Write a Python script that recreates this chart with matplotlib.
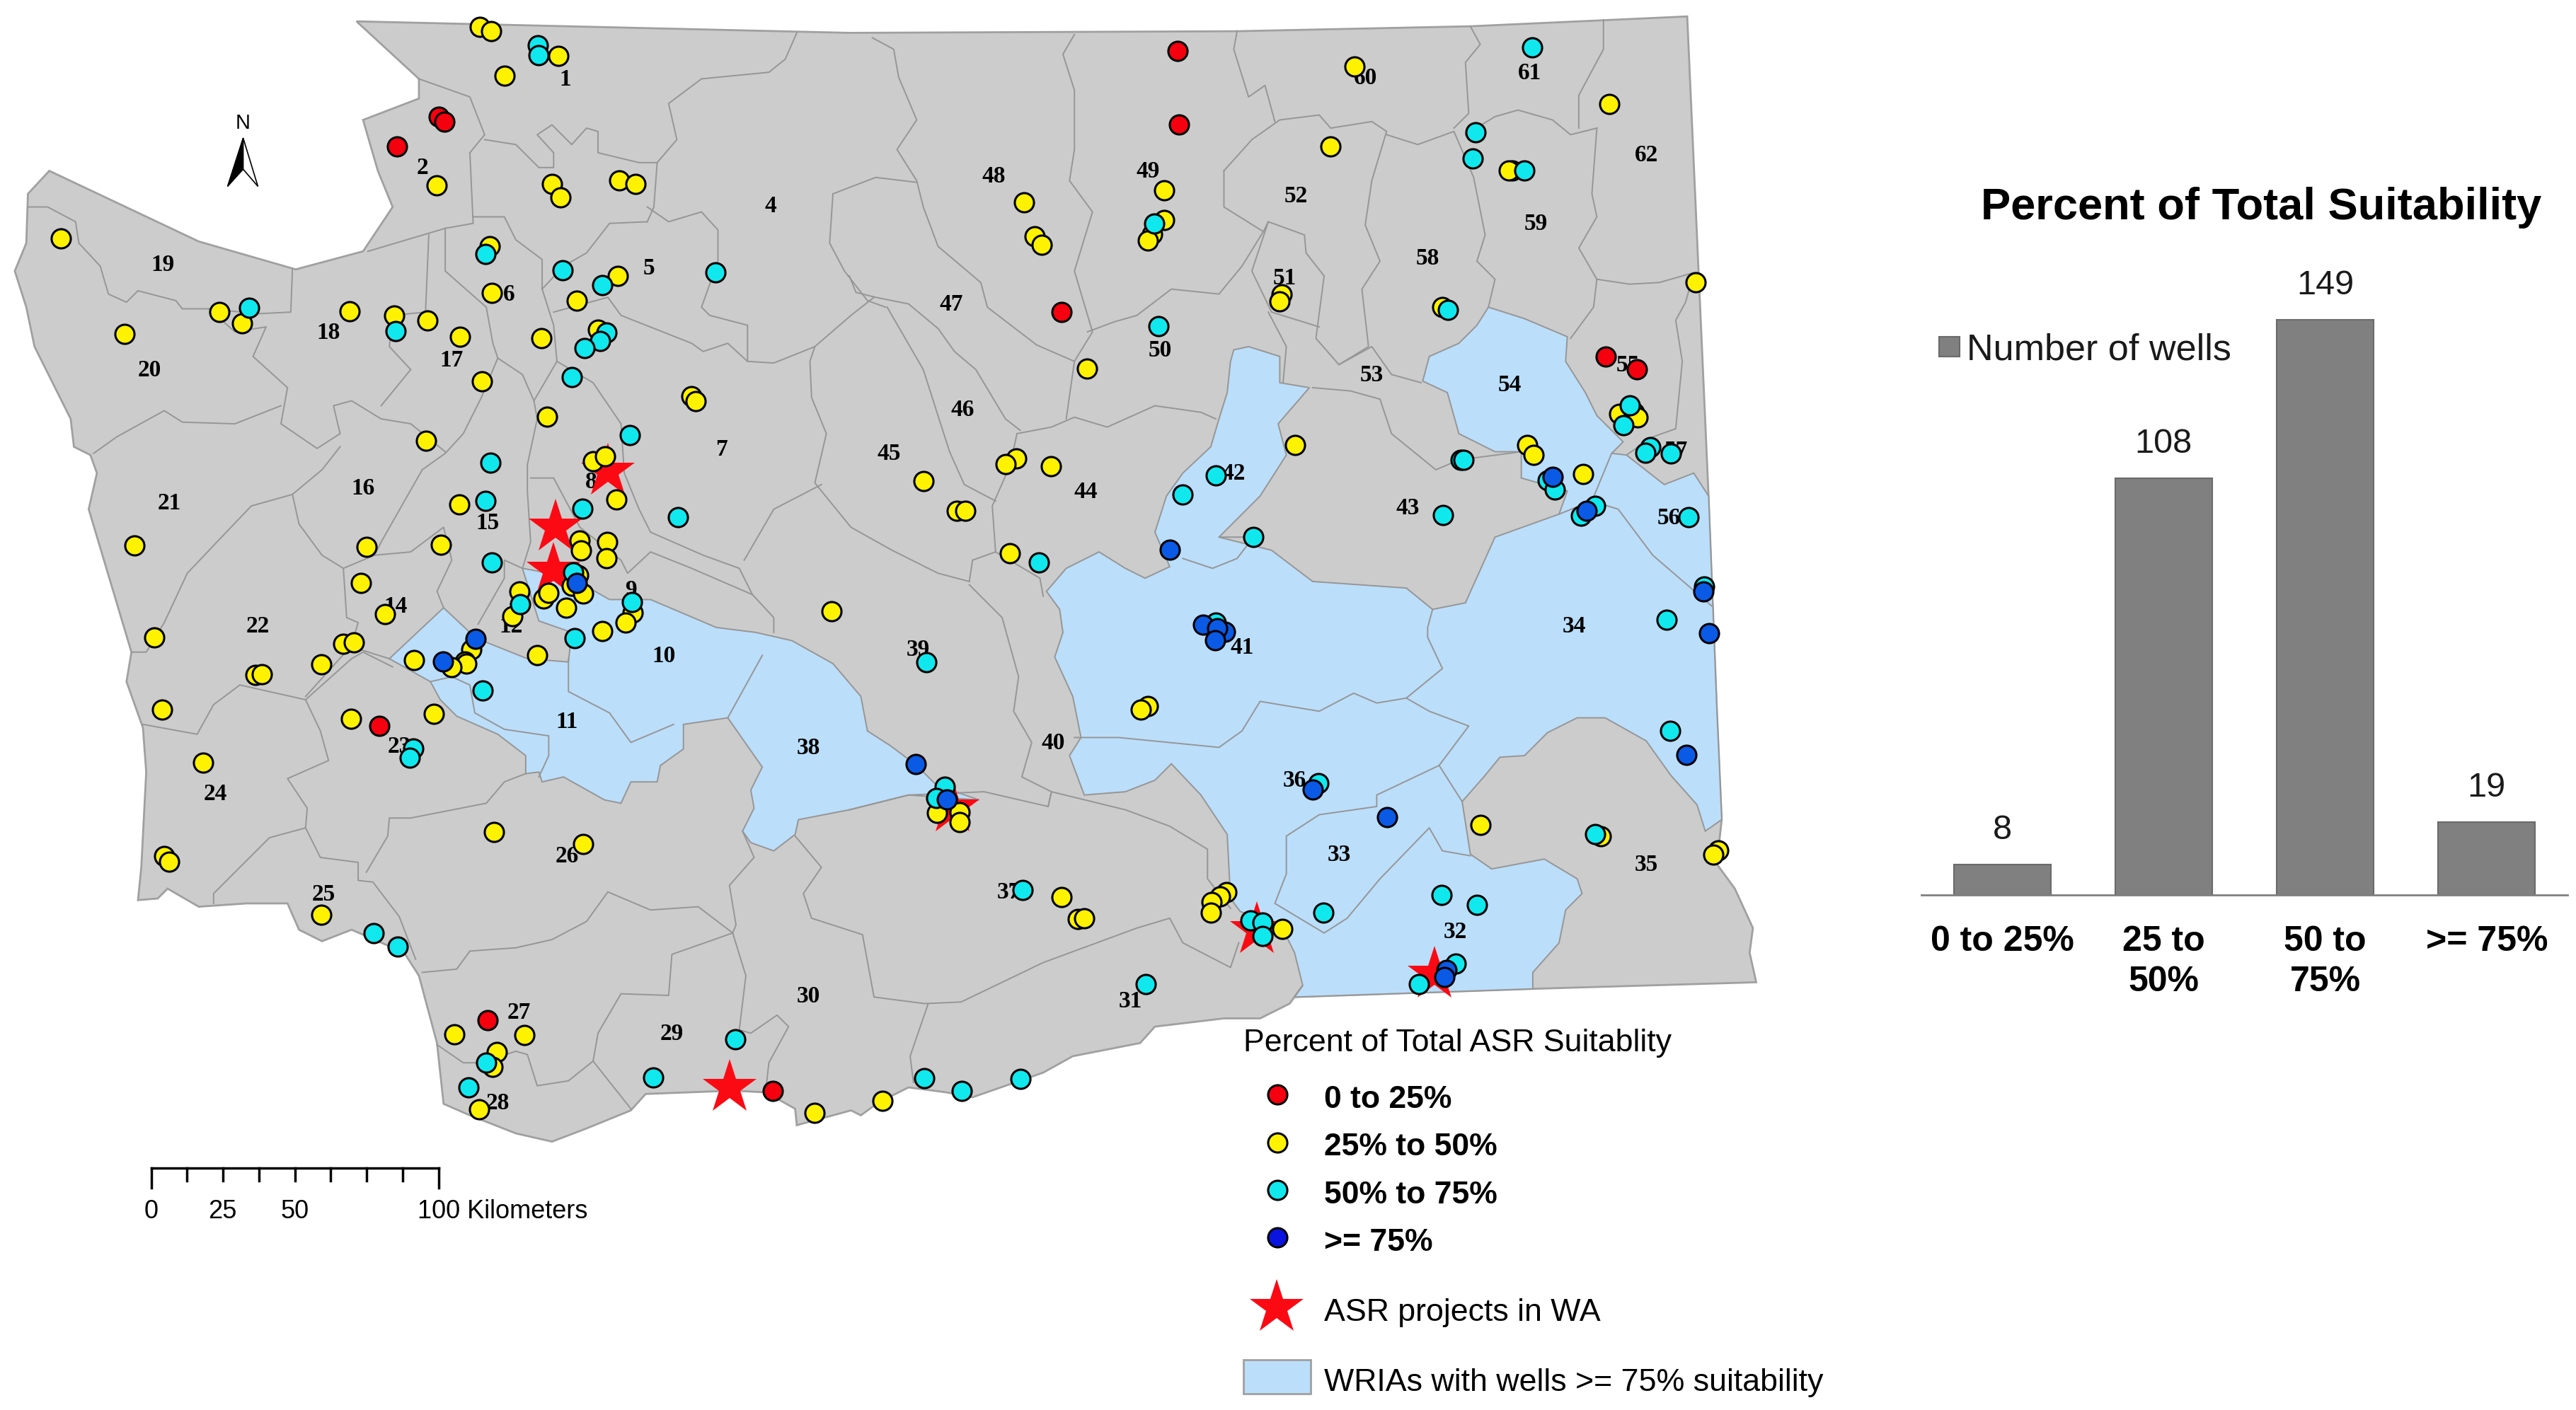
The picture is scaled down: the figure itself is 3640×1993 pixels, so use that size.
import matplotlib
matplotlib.use('Agg')
import matplotlib.pyplot as plt
from matplotlib.patches import Polygon, Rectangle

# map is traced in the pixel grid of a 1568 wide copy of the figure
state = [(217,13),(517,20),(753,19),(895,16),(1027,10),(1040,302),(1045,431),(1048,499),(1045,526),(1056,541),
         (1067,565),(1065,580),(1069,598),(933,602),(788,607),(793,600),(785,611),(767,620),(745,620),(703,625),
         (694,635),(653,643),(635,653),(592,668),(576,665),(553,662),(535,671),(524,679),(518,676),(485,685),
         (484,675),(466,665),(446,664),(393,666),(384,676),(357,687),(336,695),(314,690),(286,679),(270,672),
         (266,635),(255,594),(246,580),(214,566),(196,573),(182,566),(175,550),(150,550),(121,552),(102,541),
         (96,547),(84,548),(86,528),(89,470),(87,443),(77,415),(80,397),(54,310),(59,288),(55,277),(45,272),
         (43,255),(21,211),(16,187),(9,165),(16,148),(17,118),(30,104),(121,147),(180,164),(221,153),(239,126),
         (230,104),(221,73),(255,60),(255,48)]

west_blue = [(270,370),(286,385),(296,391),(321,401),(346,403),(348,385),(328,378),(318,346),(340,350),(357,357),
             (371,365),(396,365),(436,382),(460,385),(482,390),(507,404),(524,424),(528,445),(542,454),(558,466),
             (570,478),(596,487),(553,484),(517,493),(486,499),(484,508),(471,518),(457,513),(452,506),(459,492),
             (457,481),(464,467),(443,437),(416,441),(416,456),(402,466),(400,476),(384,476),(378,489),(368,487),
             (343,473),(330,476),(328,470),(320,471),(320,460),(303,447),(278,436),(268,426),(262,415),(237,401)]

east_blue = [(751,213),(760,211),(779,217),(779,233),(797,236),(778,258),(783,277),(767,302),(742,327),(774,335),
             (799,354),(856,358),(872,371),(892,367),(910,327),(949,313),(954,299),(926,291),(926,275),(910,275),
             (888,264),(881,239),(866,232),(870,217),(888,209),(899,198),(906,187),(928,194),(954,205),(953,220),
             (965,239),(972,253),(988,269),(981,276),(990,277),(1013,295),(1031,288),(1040,302),(1045,431),(1048,499),
             (1038,506),(1033,490),(1017,472),(1002,451),(977,437),(960,437),(942,446),(928,460),(913,461),(904,472),
             (890,488),(895,520),(908,529),(940,523),(960,535),(963,544),(953,554),(949,574),(933,592),(933,602),
             (788,607),(793,600),(788,580),(779,562),(755,555),(749,547),(747,508),(731,484),(713,465),(703,475),
             (685,482),(660,484),(651,460),(658,449),(653,424),(642,400),(647,385),(645,371),(637,360),(649,346),
             (669,336),(685,346),(697,352),(712,345),(703,324),(710,302),(720,288),(737,272),(742,255),(747,239),
             (749,220)]

boundaries = [
    [(485,20),(478,36),(468,44),(427,48),(407,63),(412,85),(400,99),(398,126),(394,135)],
    [(255,48),(286,59),(295,82),(286,93),(288,136),(271,139),(224,153)],
    [(295,85),(314,88),(328,102),(337,102),(337,93),(327,82),(336,76),(348,88),(357,78),(364,80),(364,93),(389,99),(400,99)],
    [(288,132),(307,132),(314,146),(330,158),(330,176),(337,198),(339,220),(325,244),(327,255),(321,283),(321,299),(323,330),(318,346)],
    [(394,135),(371,136),(357,154),(343,162),(330,176)],
    [(337,190),(370,181),(378,192),(421,209),(428,214),(443,209),(455,220),(471,221),(496,211),(518,192),(532,181)],
    [(394,126),(407,135),(427,129),(437,140),(437,159),(427,187),(432,192),(455,198),(455,220)],
    [(339,220),(361,233),(378,258),(380,288),(389,310),(396,324),(428,338),(450,346),(458,362),(471,376),(471,385)],
    [(323,291),(337,291),(353,321),(378,341),(382,349),(396,336),(421,346),(458,362)],
    [(500,295),(471,310),(453,341)],
    [(496,211),(493,220),(494,242),(503,264),(496,294),(518,321),(543,335),(571,349),(590,354)],
    [(507,118),(533,108),(558,111)],
    [(507,118),(505,148),(514,165),(528,183),(539,187)],
    [(531,23),(544,30),(547,47),(558,73),(546,91),(558,110),(562,126),(571,150),(597,172),(601,187),(631,210),(654,220),(649,255)],
    [(654,21),(647,33),(654,55),(654,91),(651,110),(665,129),(654,165),(665,202),(654,220)],
    [(662,202),(678,196),(692,192),(713,176),(742,179),(756,162),(769,141)],
    [(745,104),(762,85),(779,73),(803,70),(810,78),(835,74),(844,80),(835,110),(831,137),(840,159),(829,176),(833,211),(815,222),(801,206),(806,168),(795,154),(794,143),(772,135),(769,141),(745,126),(745,104)],
    [(753,19),(751,30),(760,59),(770,52),(776,74)],
    [(772,135),(762,165),(774,190),(803,199)],
    [(772,190),(783,211),(781,233)],
    [(799,236),(822,238),(840,243),(847,264),(874,286),(888,280),(926,275)],
    [(815,222),(835,211),(847,228),(865,233)],
    [(844,82),(863,88),(885,80),(897,108),(904,143),(899,159),(910,170),(906,187)],
    [(895,16),(901,27),(892,38),(894,69),(885,78)],
    [(892,82),(910,71),(924,67),(945,73),(956,82),(972,78)],
    [(976,12),(976,30),(961,58),(961,78)],
    [(972,78),(969,118),(972,132),(961,151),(972,170),(970,187),(956,206)],
    [(972,170),(992,173),(1010,172),(1031,166),(1026,184),(1020,195),(1024,220),(1020,261),(1006,266),(990,277)],
    [(517,168),(521,178),(533,181),(553,185),(571,200),(581,214),(594,225),(612,255),(621,262)],
    [(540,187),(562,225),(578,275),(587,295),(606,305)],
    [(619,264),(640,260),(654,254),(674,260),(703,247),(731,251),(740,255)],
    [(619,264),(615,283),(604,308),(606,336),(592,341),(590,354)],
    [(606,336),(633,352),(635,363)],
    [(590,356),(610,376),(620,412),(617,433),(628,452),(622,473),(640,482),(638,491)],
    [(654,449),(681,449),(742,455),(756,445),(767,427),(803,433),(824,422),(838,428),(856,425),(870,433),(894,442),(876,466),(838,484),(838,491),(803,496),(783,509),(783,532),(776,550),(806,568),(820,559),(840,535),(870,504),(878,518),(895,521)],
    [(856,425),(878,407),(869,388),(869,382),(872,371)],
    [(876,466),(890,488)],
    [(969,305),(985,310),(1006,338),(1042,369)],
    [(949,313),(969,305),(981,276)],
    [(720,340),(738,346),(753,340),(763,327),(742,327)],
    [(346,401),(346,421),(371,434),(384,452),(410,441)],
    [(464,399),(443,437)],
    [(262,415),(275,412),(286,417),(289,434),(307,444),(334,448),(334,460),(328,473)],
    [(186,426),(146,417),(130,429),(120,447),(87,441)],
    [(186,426),(214,401),(221,397),(239,406)],
    [(186,426),(195,445),(200,463),(175,474),(187,492),(186,504),(164,510),(148,526),(130,544),(130,550)],
    [(186,504),(195,522),(218,525),(218,536),(227,537),(243,558),(253,584)],
    [(223,531),(236,509),(237,498),(250,498),(296,489),(307,476),(320,471)],
    [(257,592),(278,590),(286,579),(314,577),(336,572),(357,561),(370,543),(396,554),(425,552),(446,568)],
    [(452,506),(459,522),(444,539),(448,563),(446,568),(409,581),(407,606),(378,605),(364,629),(361,646),(384,675)],
    [(266,636),(282,647),(293,647),(314,640),(321,642),(327,661),(346,658),(361,646)],
    [(446,568),(454,594),(450,627),(457,629),(473,618),(480,625),(468,647),(466,665)],
    [(484,509),(500,528),(489,544),(494,559),(525,569),(532,607),(563,611),(585,610),(635,586),(692,565),(712,559),(720,574),(749,589),(754,574)],
    [(565,611),(554,643),(556,659)],
    [(517,493),(553,484),(599,482),(638,491),(640,482),(685,493),(712,503),(735,517),(735,535),(749,553)],
    [(17,126),(29,126),(46,135),(48,148),(61,162),(66,179),(77,184),(84,177),(107,183),(111,188),(127,188),(157,191),(177,190),(178,164)],
    [(127,188),(143,202),(162,199),(154,217),(175,236),(171,258),(193,273),(207,264),(203,247),(214,244),(232,255),(250,258),(271,275)],
    [(57,276),(71,266),(100,250),(111,257),(143,258),(171,247)],
    [(261,143),(259,190),(239,192),(237,211),(250,225),(232,247)],
    [(271,139),(271,165),(296,187),(300,209),(303,218),(293,242),(282,264),(271,276),(257,286),(232,330),(228,338),(250,336),(270,321),(275,341),(266,360),(270,370)],
    [(303,218),(318,228),(325,244)],
    [(291,380),(307,352),(307,341),(318,346)],
    [(207,272),(196,286),(178,301),(153,308),(132,330),(114,349),(100,379),(89,397),(80,397)],
    [(178,301),(182,319),(196,338),(209,346),(228,338)],
    [(209,346),(211,376),(218,379),(214,393),(221,396),(237,401)],
    [(214,393),(186,424)],
]

# wells
well_red = [(267,71),(270.5,74),(241.5,89),(717,31),(717.5,76),(646,190),(977.5,217),(996.5,225),(231,442),(297,621),(470.5,664)]
well_cyan = [(327.5,27.5),(328,33.5),(295.5,154.5),(151.5,187.5),(241,201.5),(342.5,164.5),(366.5,173.5),(435.5,166),
             (369,202.5),(365.5,207.5),(356,212),(348,229.5),(383.5,265),(298.5,281.5),(295.5,305),(354.5,309.5),
             (412.5,315),(299.5,342.5),(349,348.5),(316.5,368),(384.5,366.5),(350,388.5),(294,420.5),
             (251.5,455.5),(249.5,461.5),(227.5,568),(242,576.5),(447.5,632.5),(397.5,656),(285,662),(296,647),
             (932.5,29),(898,80.5),(896.5,96.5),(928,104),(702.5,136),(705,198.5),(881.5,188.5),(992,247),(988,259),
             (1004.5,272),(1001.5,275.5),(1017,276),(889,280),(891,280),(740,289.5),(720,301),(942,292.5),(946.5,298),
             (971,308),(962.5,314),(878.5,313.5),(1028,315),(763,327),(632.5,342.5),(1037.5,357),(564,403),(1014.5,377.5),
             (740,379),(1016.5,445),(802.5,477),(575,479),(570,486),(971,508),(622.5,542),(877.5,545),(899,551),(805.5,555.5),
             (761,560.5),(768.5,561.5),(768.5,570),(886,586.5),(863.5,599),(697.5,599),(562.5,656.5),(585.5,664),(621,657)]
well_yellow = [(292,16.5),(299,19),(340,34),(307,46),(266,113),(336,112),(341,120),(377,110),(387,112),(298,150),(37,145),
               (376,168),(299.5,178.5),(351,183),(133.5,190),(147.5,197),(213,189.5),(240,192),(260,195),(76,203.5),(280,205),
               (329.5,206),(364,200.5),(293.5,232),(421,241),(423.5,244),(333,253.5),(259.5,268.5),(361,281),(368.5,278),(375,304),
               (279.5,307),(82,332),(223,333),(268.5,331.5),(353,329),(353.5,335),(369.5,330),(369,340),(219.5,355),(352,350),
               (348,356.5),(355,361.5),(316,360),(331,364.5),(334,361),(344.5,370),(234.5,374),(312,375),(385,373),(381,379),
               (366.5,384),(506,372),(94,388),(209,392),(215.5,391),(327,399),(287,395.5),(283,402.5),(284,404),(252,402),(275,406),
               (195.5,404.5),(155.5,411),(159.5,410.5),(98.5,432),(213.5,437.5),(264,434.5),(123.5,464.5),(300.5,506.5),(355,514),
               (100,521),(103,524.5),(195.5,557),(276.5,629.5),(319,630),(302.5,640.5),(300,649.5),(291.5,675.5),(496,677.5),(537,670),
               (824.5,40.5),(979.5,63.5),(810,89),(920.5,104),(918.5,104),(623.5,123),(708.5,116),(708.5,134),(701.5,142.5),(698.5,146.5),
               (630,144),(634,149),(780,179),(779,183.5),(878,187),(1032,172),(661.5,224.5),(985.5,252),(994.5,251),(997,254),(788.5,271),
               (929.5,271),(933.5,277),(618.5,279),(612,282.5),(639.5,284),(963.5,288.5),(562,293),(582.5,311),(587.5,311),(614.5,337),
               (698.5,430),(694.5,432),(570.5,495),(584,494.5),(584,500.5),(901,502),(974.5,509),(1046,517.5),(1043,520.5),(646,546),
               (656,559.5),(660,559),(746.5,543),(742.5,545.5),(737.5,549),(737,555.5),(780.5,565.5)]
well_blue = [(351,355),(289.5,389),(269.5,402.5),(712,334.5),(732.5,380.5),(745.5,384.5),(741,382.5),(739.5,390),(945,290.5),
             (966,311),(1037,360),(1040.5,385.5),(557.5,465),(576.5,486.5),(1026.5,459.5),(799,480.5),(844.5,497.5),(880.5,590.5),(879,595)]
asr_projects = [(370,287),(338,321),(337,347),(580,492),(765,566),(873,593),(444,662)]

wria_labels = {'1':(344,47),'2':(257,101),'3':(341,118),'4':(469,124),'5':(395,162),'6':(310,178),'7':(439,272),'8':(360,292),
               '9':(384,358),'10':(404,398),'11':(345,438),'12':(311,380),'14':(241,368),'15':(297,317),'16':(221,296),
               '17':(275,218),'18':(200,201),'19':(99,160),'20':(91,224),'21':(103,305),'22':(157,380),'23':(243,453),
               '24':(131,482),'25':(197,543),'26':(345,520),'27':(316,615),'28':(303,670),'29':(409,628),'30':(492,605),
               '31':(688,608),'32':(886,566),'33':(815,519),'34':(958,380),'35':(1002,525),'36':(788,474),'37':(614,542),
               '38':(492,454),'39':(559,394),'40':(641,451),'41':(756,393),'42':(751,287),'43':(857,308),'44':(661,298),
               '45':(541,275),'46':(586,248),'47':(579,184),'48':(605,106),'49':(699,103),'50':(706,212),'51':(782,168),
               '52':(789,118),'53':(835,227),'54':(919,233),'55':(991,221),'56':(1016,314),'57':(1020,273),'58':(869,156),
               '59':(935,135),'60':(831,46),'61':(931,43),'62':(1002,93)}

suitability = ['0 to 25%', '25 to\n50%', '50 to\n75%', '>= 75%']
num_wells = [8, 108, 149, 19]

legend_names = ['0 to 25%', '25% to 50%', '50% to 75%', '>= 75%']
legend_colors = ['#F5000F', '#FFF200', '#10E8EE', '#0A14E0']

W, H = 1568.0, 858.4

fig = plt.figure(figsize=(36.4, 19.93), dpi=100)
ax = fig.add_axes([0, 0, 1, 1])
ax.set_xlim(0, W)
ax.set_ylim(H, 0)
ax.axis('off')

edge = '#969696'
ax.add_patch(Polygon(state, closed=True, fc='#CCCCCC', ec='#a0a0a0', lw=2, zorder=1))
ax.add_patch(Polygon(west_blue, closed=True, fc='#BBDEFA', ec=edge, lw=1.4, zorder=2))
ax.add_patch(Polygon(east_blue, closed=True, fc='#BBDEFA', ec=edge, lw=1.4, zorder=2))
for line in boundaries:
    ax.plot([p[0] for p in line], [p[1] for p in line], color=edge, lw=1.4, zorder=3)

for name, (x, y) in wria_labels.items():
    ax.text(x, y + 1.5, name, family='Liberation Serif', weight='bold', fontsize=24, ha='center', va='center', zorder=4)

ax.plot([p[0] for p in asr_projects], [p[1] for p in asr_projects], ls='none', marker='*', ms=58,
        color='#FB0A14', mew=0, zorder=5)

for wells, color, z in [(well_red, '#F5000F', 6), (well_yellow, '#FFF200', 7), (well_cyan, '#10E8EE', 8), (well_blue, '#0A5AE6', 9)]:
    ax.plot([p[0] for p in wells], [p[1] for p in wells], ls='none', marker='o', ms=19.5,
            mfc=color, mec='black', mew=2.2, zorder=z)

# north arrow
ax.text(148, 75, 'N', family='Liberation Sans', fontsize=21, ha='center', va='center')
ax.add_patch(Polygon([(148,84),(138.5,113.5),(148,103)], closed=True, fc='black', ec='black', lw=1.2))
ax.add_patch(Polygon([(148,84),(157,113.5),(148,103)], closed=True, fc='white', ec='black', lw=1.2))

# scale bar
sx0, sx1, sy = 92.0, 267.0, 711.0
ax.plot([sx0, sx1], [sy, sy], color='black', lw=2.5)
for i in range(9):
    x = sx0 + (sx1 - sx0) * i / 8
    ax.plot([x, x], [sy, sy + (12 if i in (0, 8) else 8)], color='black', lw=2.5)
for x, s in [(92, '0'), (135.5, '25'), (179.5, '50')]:
    ax.text(x, 737.5, s, family='Liberation Sans', fontsize=26, ha='center', va='center')
ax.text(254, 737.5, '100 Kilometers', family='Liberation Sans', fontsize=26, ha='left', va='center')

# map legend
ax.text(757, 635, 'Percent of Total ASR Suitablity', family='Liberation Sans', fontsize=32.2, ha='left', va='center')
for y, name, color in zip([666.5, 695.5, 724.5, 753.5], legend_names, legend_colors):
    ax.plot([777.5], [y], marker='o', ms=19.5, mfc=color, mec='black', mew=2.2)
    ax.text(806, y + 3, name, family='Liberation Sans', weight='bold', fontsize=32, ha='left', va='center')
ax.plot([777], [796], marker='*', ms=58, color='#FB0A14', mew=0)
ax.text(806, 799, 'ASR projects in WA', family='Liberation Sans', fontsize=32.2, ha='left', va='center')
ax.add_patch(Rectangle((757, 828), 41, 20.5, fc='#BBDEFA', ec='#a0a0a0', lw=2))
ax.text(806, 842, 'WRIAs with wells >= 75% suitability', family='Liberation Sans', fontsize=32.2, ha='left', va='center')

# bar chart
bar_ax = fig.add_axes([1169.5 / W, 1 - 545 / H, 393.3 / W, 395 / H])
bar_ax.patch.set_alpha(0)
bars = bar_ax.bar(range(4), num_wells, width=0.6, color='#808080', edgecolor='#6a6a6a', linewidth=1.5)
bar_ax.set_xlim(-0.5, 3.5)
bar_ax.set_ylim(0, 168)
for rect, v in zip(bars, num_wells):
    bar_ax.annotate(str(v), (rect.get_x() + rect.get_width() / 2, v), xytext=(0, 35), textcoords='offset points',
                    ha='center', va='center', family='Liberation Sans', fontsize=35, color='#1a1a1a')
for s in ['left', 'top', 'right']:
    bar_ax.spines[s].set_visible(False)
bar_ax.spines['bottom'].set_color('#808080')
bar_ax.spines['bottom'].set_linewidth(2)
bar_ax.set_yticks([])
bar_ax.set_xticks(range(4))
bar_ax.set_xticklabels(suitability, family='Liberation Sans', weight='bold', fontsize=36, linespacing=1.3)
bar_ax.tick_params(axis='x', length=0, pad=31)

ax.text(1376.5, 126.5, 'Percent of Total Suitability', family='Liberation Sans', weight='bold', fontsize=45.5,
        ha='center', va='center')
ax.add_patch(Rectangle((1180.5, 205), 12.5, 12, fc='#808080', ec='#6a6a6a', lw=1.5))
ax.text(1197, 213, 'Number of wells', family='Liberation Sans', fontsize=37.5, ha='left', va='center', color='#1a1a1a')

fig.savefig('out.png', dpi=100)
